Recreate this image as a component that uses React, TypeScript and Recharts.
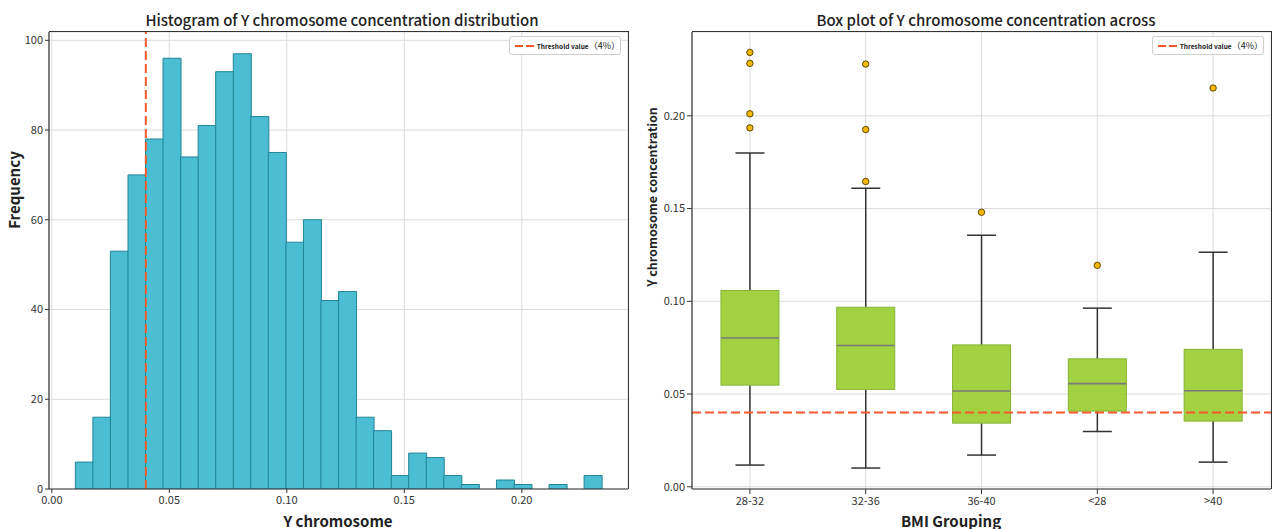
import React from 'react';
import { ComposedChart, Bar, XAxis, YAxis, CartesianGrid, ReferenceLine, Scatter } from 'recharts';

// ---------- Histogram data ----------
const binEdges = [
  0.0100, 0.0175, 0.0249, 0.0324, 0.0399, 0.0473, 0.0548, 0.0623, 0.0697, 0.0772,
  0.0847, 0.0921, 0.0996, 0.1071, 0.1145, 0.1220, 0.1295, 0.1369, 0.1444, 0.1519,
  0.1593, 0.1668, 0.1743, 0.1817, 0.1892, 0.1967, 0.2041, 0.2116, 0.2191, 0.2265, 0.2340,
];
const binCounts = [
  6, 16, 53, 70, 78, 96, 74, 81, 93, 97,
  83, 75, 55, 60, 42, 44, 16, 13, 3, 8,
  7, 3, 1, 0, 2, 1, 0, 1, 0, 3,
];
const histXTicks = [0, 0.05, 0.1, 0.15, 0.2];
const histYTicks = [0, 20, 40, 60, 80, 100];
const threshold = 0.04;

// ---------- Box plot data ----------
const groups = ['28-32', '32-36', '36-40', '<28', '>40'];
const whiskerLow = [0.0117, 0.0101, 0.0171, 0.0298, 0.0133];
const q1 = [0.0548, 0.0525, 0.0343, 0.0408, 0.0354];
const median = [0.0802, 0.0762, 0.0516, 0.0556, 0.0518];
const q3 = [0.1058, 0.0968, 0.0765, 0.0690, 0.0741];
const whiskerHigh = [0.1799, 0.1610, 0.1356, 0.0963, 0.1265];
const outlierGroups = ['28-32', '28-32', '28-32', '28-32', '32-36', '32-36', '32-36', '36-40', '<28', '>40'];
const outlierValues = [0.2342, 0.2283, 0.2011, 0.1935, 0.2279, 0.1926, 0.1646, 0.1480, 0.1194, 0.2150];
const boxYTicks = [0, 0.05, 0.1, 0.15, 0.2];

const histData = binCounts.map((c, i) => ({
  x: (binEdges[i] + binEdges[i + 1]) / 2,
  count: c,
}));

const boxData = groups.map((g, i) => ({
  group: g,
  low: whiskerLow[i],
  q1: q1[i],
  median: median[i],
  q3: q3[i],
  high: whiskerHigh[i],
}));

const outlierData = outlierGroups.map((g, i) => ({ group: g, value: outlierValues[i] }));

const FONT = "'Noto Sans CJK SC', 'Noto Sans', sans-serif";
const RED = '#F4592A';
const AXIS = '#333333';
const GRID = '#dcdcdc';

const BoxShape = (props: any) => {
  const { x, y, width, height, payload } = props;
  if (x == null || y == null || !payload) return null;
  const top = Math.min(y, y + height);
  const bottom = Math.max(y, y + height);
  const lo = payload.low;
  const hi = payload.high;
  const py = (v: number) => bottom - ((v - lo) / (hi - lo)) * (bottom - top);
  const cx = x + width / 2;
  const capW = width / 2;
  const yq1 = py(payload.q1);
  const yq3 = py(payload.q3);
  const ym = py(payload.median);
  return (
    <g>
      <line x1={cx} x2={cx} y1={top} y2={yq3} stroke="#333" strokeWidth={1.5} />
      <line x1={cx} x2={cx} y1={yq1} y2={bottom} stroke="#333" strokeWidth={1.5} />
      <line x1={cx - capW / 2} x2={cx + capW / 2} y1={top} y2={top} stroke="#333" strokeWidth={1.5} />
      <line x1={cx - capW / 2} x2={cx + capW / 2} y1={bottom} y2={bottom} stroke="#333" strokeWidth={1.5} />
      <rect x={x} y={yq3} width={width} height={yq1 - yq3} fill="#9ACD32" fillOpacity={0.92} stroke="#84B734" strokeWidth={1} />
      <line x1={x} x2={x + width} y1={ym} y2={ym} stroke="#7a7a7a" strokeWidth={1.6} />
    </g>
  );
};

const OutlierDot = (props: any) => {
  const { cx, cy } = props;
  if (cx == null || cy == null) return null;
  return <circle cx={cx} cy={cy} r={3.2} fill="#F5B800" stroke="#4a3a00" strokeWidth={0.9} />;
};

const LegendBox = ({ left }: { left: number }) => (
  <div
    style={{
      position: 'absolute',
      left,
      top: 36,
      width: 112,
      height: 19,
      border: '1px solid #cfcfcf',
      borderRadius: 3,
      background: 'rgba(255,255,255,0.85)',
      boxSizing: 'border-box',
      display: 'flex',
      alignItems: 'center',
      paddingLeft: 5,
      whiteSpace: 'nowrap',
    }}
  >
    <svg width={22} height={6} style={{ marginRight: 2 }}>
      <line x1={0} x2={22} y1={3} y2={3} stroke={RED} strokeWidth={2} strokeDasharray="8 3" />
    </svg>
    <span style={{ fontSize: 6.6, fontWeight: 700, color: '#222' }}>Threshold value</span>
    <span style={{ fontSize: 9, color: '#222' }}>（4%）</span>
  </div>
);

const Frame = ({ left, top, width, height }: { left: number; top: number; width: number; height: number }) => (
  <div
    style={{
      position: 'absolute',
      left,
      top,
      width,
      height,
      borderTop: `1.5px solid ${AXIS}`,
      borderRight: `1.2px solid ${AXIS}`,
      boxSizing: 'border-box',
      pointerEvents: 'none',
    }}
  />
);

const tickStyle = { fontSize: 11, fill: '#333' };

export default function App() {
  return (
    <div style={{ position: 'absolute', left: 0, top: 0, width: 1272, height: 529, background: '#fff', fontFamily: FONT }}>
      {/* Left: histogram */}
      <div style={{ position: 'absolute', left: 0, top: 0 }}>
        <ComposedChart
          width={640}
          height={529}
          data={histData}
          margin={{ top: 32, right: 12, bottom: 10, left: 9 }}
          barCategoryGap={0}
          barGap={0}
        >
          <CartesianGrid stroke={GRID} />
          <XAxis
            dataKey="x"
            type="number"
            domain={[-0.0012, 0.2452]}
            allowDataOverflow
            ticks={histXTicks}
            interval={0}
            tickFormatter={(v: number) => v.toFixed(2)}
            tickSize={4}
            tickMargin={3}
            height={30}
            axisLine={{ stroke: AXIS, strokeWidth: 1.2 }}
            tickLine={{ stroke: AXIS }}
            tick={tickStyle}
          />
          <YAxis
            type="number"
            domain={[0, 101.85]}
            allowDataOverflow
            ticks={histYTicks}
            interval={0}
            width={40}
            tickSize={4}
            tickMargin={2}
            axisLine={{ stroke: AXIS, strokeWidth: 1.2 }}
            tickLine={{ stroke: AXIS }}
            tick={tickStyle}
          />
          <Bar dataKey="count" fill="#4CBED3" stroke="#1F8595" strokeWidth={1} isAnimationActive={false} />
          <ReferenceLine x={threshold} stroke={RED} strokeWidth={2} strokeDasharray="9 4" />
        </ComposedChart>
      </div>

      {/* Right: box plot */}
      <div style={{ position: 'absolute', left: 640, top: 0 }}>
        <ComposedChart
          width={632}
          height={529}
          data={boxData}
          margin={{ top: 32, right: 1, bottom: 10, left: 12 }}
          barCategoryGap="25%"
        >
          <CartesianGrid stroke={GRID} />
          <XAxis
            dataKey="group"
            type="category"
            allowDuplicatedCategory={false}
            interval={0}
            tickSize={5}
            tickMargin={3}
            height={30}
            axisLine={{ stroke: AXIS, strokeWidth: 1.2 }}
            tickLine={{ stroke: AXIS }}
            tick={tickStyle}
          />
          <YAxis
            type="number"
            domain={[-0.0012, 0.2452]}
            allowDataOverflow
            ticks={boxYTicks}
            interval={0}
            tickFormatter={(v: number) => v.toFixed(2)}
            width={40}
            tickSize={5}
            tickMargin={2}
            axisLine={{ stroke: AXIS, strokeWidth: 1.2 }}
            tickLine={{ stroke: AXIS }}
            tick={tickStyle}
          />
          <Bar dataKey={(d: any) => [d.low, d.high]} shape={BoxShape} isAnimationActive={false} />
          <Scatter data={outlierData} dataKey="value" shape={OutlierDot} isAnimationActive={false} />
          <ReferenceLine y={threshold} stroke={RED} strokeWidth={2} strokeDasharray="9 4" />
        </ComposedChart>
      </div>

      <Frame left={49} top={31} width={580} height={458} />
      <Frame left={692} top={31} width={580} height={458} />

      {/* Titles & labels */}
      <div style={{ position: 'absolute', left: 342, top: 19, transform: 'translate(-50%, -50%)', fontSize: 15, fontWeight: 500, color: '#222', whiteSpace: 'nowrap' }}>
        Histogram of Y chromosome concentration distribution
      </div>
      <div style={{ position: 'absolute', left: 986, top: 19, transform: 'translate(-50%, -50%)', fontSize: 15, fontWeight: 500, color: '#222', whiteSpace: 'nowrap' }}>
        Box plot of Y chromosome concentration across
      </div>
      <div style={{ position: 'absolute', left: 13, top: 190, transform: 'translate(-50%, -50%) rotate(-90deg)', fontSize: 15, fontWeight: 700, color: '#222', whiteSpace: 'nowrap' }}>
        Frequency
      </div>
      <div style={{ position: 'absolute', left: 651, top: 197, transform: 'translate(-50%, -50%) rotate(-90deg)', fontSize: 12.5, fontWeight: 700, color: '#222', whiteSpace: 'nowrap' }}>
        Y chromosome concentration
      </div>
      <div style={{ position: 'absolute', left: 338, top: 520, transform: 'translate(-50%, -50%)', fontSize: 15, fontWeight: 700, color: '#222', whiteSpace: 'nowrap' }}>
        Y chromosome
      </div>
      <div style={{ position: 'absolute', left: 951, top: 520, transform: 'translate(-50%, -50%)', fontSize: 15, fontWeight: 700, color: '#222', whiteSpace: 'nowrap' }}>
        BMI Grouping
      </div>

      <LegendBox left={509} />
      <LegendBox left={1152} />
    </div>
  );
}
